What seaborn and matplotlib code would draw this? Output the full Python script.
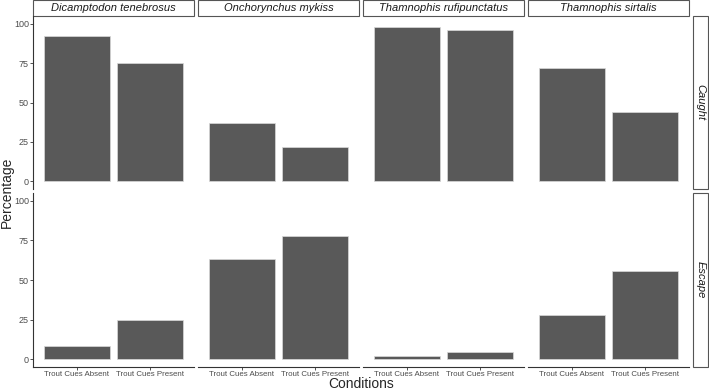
import matplotlib
matplotlib.use("Agg")
import matplotlib.pyplot as plt
import pandas as pd
import seaborn as sns
from matplotlib.patches import Rectangle

species = ["Dicamptodon tenebrosus", "Onchorynchus mykiss",
           "Thamnophis rufipunctatus", "Thamnophis sirtalis"]
outcomes = ["Caught", "Escape"]
conditions = ["Trout Cues Absent", "Trout Cues Present"]

# percentages per species: [absent, present]
caught = [[92, 75], [37, 22], [98, 96], [72, 44]]
escape = [[8, 25], [63, 78], [2, 4.5], [28, 56]]

rows = []
for outcome, vals in zip(outcomes, [caught, escape]):
    for sp, pair in zip(species, vals):
        for cond, v in zip(conditions, pair):
            rows.append({"Outcome": outcome, "Species": sp,
                         "Condition": cond, "Percentage": v})
df = pd.DataFrame(rows)

sns.set_style("white")
plt.rcParams["font.family"] = ["Liberation Sans", "DejaVu Sans"]

W, H = 709, 390
fig = plt.figure(figsize=(W / 100, H / 100), dpi=100)

col_left = [33, 198, 363, 528]
pw = 161
row_box = [(16, 189), (193, 367)]  # top, bottom in pixels
line_col = "#333333"

for r, outcome in enumerate(outcomes):
    y0, y1 = row_box[r]
    for c, sp in enumerate(species):
        x0 = col_left[c]
        ax = fig.add_axes([x0 / W, (H - y1) / H, pw / W, (y1 - y0) / H])
        sub = df[(df.Outcome == outcome) & (df.Species == sp)]
        sns.barplot(data=sub, x="Condition", y="Percentage", order=conditions,
                    color="#595959", edgecolor="#d9d9d9", linewidth=0.5,
                    width=0.9, errorbar=None, saturation=1, ax=ax)
        ax.set_xlim(-0.6, 1.6)
        ax.set_ylim(-5, 105)
        ax.set_xlabel("")
        ax.set_ylabel("")
        for s in ["top", "right"]:
            ax.spines[s].set_visible(False)
        ax.spines["left"].set_visible(c == 0)
        ax.spines["bottom"].set_visible(r == 1)
        for s in ["left", "bottom"]:
            ax.spines[s].set_color(line_col)
            ax.spines[s].set_linewidth(0.8)
        ax.set_yticks([0, 25, 50, 75, 100])
        ax.tick_params(axis="y", left=(c == 0), labelleft=(c == 0),
                       length=2, width=0.6, color=line_col,
                       labelsize=6.5, labelcolor="#4d4d4d", pad=1)
        ax.tick_params(axis="x", bottom=(r == 1), labelbottom=(r == 1),
                       length=2, width=0.6, color=line_col,
                       labelsize=5.7, labelcolor="#4d4d4d", pad=1)

        # top strips
        if r == 0:
            sh = 16 / (y1 - y0)
            ax.add_patch(Rectangle((0, 1.0), 1, sh, transform=ax.transAxes,
                                   clip_on=False, facecolor="white",
                                   edgecolor="#555555", linewidth=0.8))
            ax.text(0.5, 1 + sh / 2, sp, transform=ax.transAxes,
                    ha="center", va="center", fontsize=8, style="italic",
                    color="#1a1a1a")
        # right strips
        if c == 3:
            gx = 4 / pw
            sw = 15 / pw
            ax.add_patch(Rectangle((1 + gx, 0), sw, 1, transform=ax.transAxes,
                                   clip_on=False, facecolor="white",
                                   edgecolor="#555555", linewidth=0.8))
            ax.text(1 + gx + sw / 2, 0.5, outcome, transform=ax.transAxes,
                    ha="center", va="center", fontsize=8, style="italic",
                    rotation=-90, color="#1a1a1a")

fig.text(7 / W, 1 - 192 / H, "Percentage", rotation=90, ha="center",
         va="center", fontsize=10)
fig.text(361 / W, 1 - 383.5 / H, "Conditions", ha="center", va="center",
         fontsize=10)

fig.savefig("out.png", dpi=100)
